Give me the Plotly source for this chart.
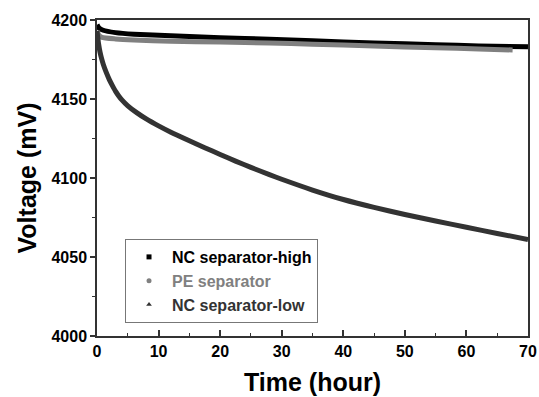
import plotly.graph_objects as go

# Data
t_high = [0, 0.3, 1, 3, 6, 12, 20, 28, 35, 45, 55, 62, 70]
v_high = [4197, 4195, 4193.5, 4192, 4191, 4190, 4188.8, 4187.8, 4186.8, 4185.5, 4184.3, 4183.6, 4183]

t_pe = [0, 0.3, 0.8, 3, 6, 12, 20, 28, 35, 45, 55, 62, 67.5]
v_pe = [4193, 4190.5, 4189, 4188, 4187.3, 4186.5, 4186, 4185.4, 4184.7, 4183.5, 4182.4, 4181.7, 4181]

t_low = [0, 0.25, 0.5, 0.75, 1, 1.5, 2, 2.5, 3, 3.5, 4, 5, 6.5, 8, 10, 12, 15, 17.5, 20, 22.5, 25, 28, 30, 35, 40, 45, 50, 55, 60, 65, 70]
v_low = [4193, 4185, 4179.5, 4175.5, 4172.2, 4166.8, 4162.3, 4158.5, 4155.0, 4152.1, 4149.6, 4145.7, 4141.2, 4137.4, 4133.0, 4129.0, 4123.6, 4119.2, 4114.9, 4110.7, 4106.7, 4102.1, 4099.2, 4092.4, 4086.4, 4081.4, 4076.9, 4072.8, 4068.8, 4064.9, 4061.1]

names = ["NC separator-high", "PE separator", "NC separator-low"]
colors = ["#000000", "#808080", "#333333"]
symbols = ["square", "circle", "triangle-up"]

x_ticks = [0, 10, 20, 30, 40, 50, 60, 70]
y_ticks = [4000, 4050, 4100, 4150, 4200]

FONT = "Liberation Sans, Arial, sans-serif"

fig = go.Figure()
for tx, vy, c in [(t_high, v_high, colors[0]), (t_pe, v_pe, colors[1]), (t_low, v_low, colors[2])]:
    fig.add_trace(go.Scatter(x=tx, y=vy, mode="lines", line=dict(color=c, width=5, shape="spline", smoothing=0.5),
                             showlegend=False, hoverinfo="skip"))

for n, c, s in zip(names, colors, symbols):
    fig.add_trace(go.Scatter(x=[None], y=[None], mode="markers",
                             marker=dict(color=c, symbol=s, size=5),
                             name=f"<span style='color:{c}'>{n}</span>"))

fig.update_layout(
    width=539, height=397,
    margin=dict(l=97, r=11, t=20, b=61),
    plot_bgcolor="white", paper_bgcolor="white",
    font=dict(family=FONT, color="#000"),
    legend=dict(x=0.065, y=0.307, xanchor="left", yanchor="top",
                bordercolor="#777", borderwidth=1, bgcolor="white",
                font=dict(family=FONT, size=16, weight="bold"),
                itemwidth=36, tracegroupgap=0),
)
fig.update_xaxes(range=[0, 70], tickvals=x_ticks, ticktext=[str(v) for v in x_ticks],
                 automargin=False,
                 showgrid=False, zeroline=False, showline=True, linecolor="#333", linewidth=1.5,
                 mirror=True, ticks="inside", ticklen=6, tickwidth=1.5, tickcolor="#333",
                 minor=dict(ticks="inside", dtick=5, ticklen=3, tickwidth=1.2, tickcolor="#333"),
                 tickfont=dict(family=FONT, size=16, color="#000", weight="bold"),
                 title=dict(text="Time (hour)", font=dict(family=FONT, size=25, weight="bold"), standoff=15))
fig.update_yaxes(range=[4000, 4200], tickvals=y_ticks, ticktext=[str(v) for v in y_ticks],
                 automargin=False,
                 showgrid=False, zeroline=False, showline=True, linecolor="#333", linewidth=1.5,
                 mirror=True, ticks="outside", ticklen=5, tickwidth=1.5, tickcolor="#333",
                 minor=dict(ticks="outside", dtick=25, ticklen=3, tickwidth=1.2, tickcolor="#333"),
                 tickfont=dict(family=FONT, size=16, color="#000", weight="bold"),
                 title=dict(text="Voltage (mV)", font=dict(family=FONT, size=25, weight="bold"), standoff=8))

fig.write_html("out.html", config={"displayModeBar": False},
               post_script="document.body.style.margin='0';")
